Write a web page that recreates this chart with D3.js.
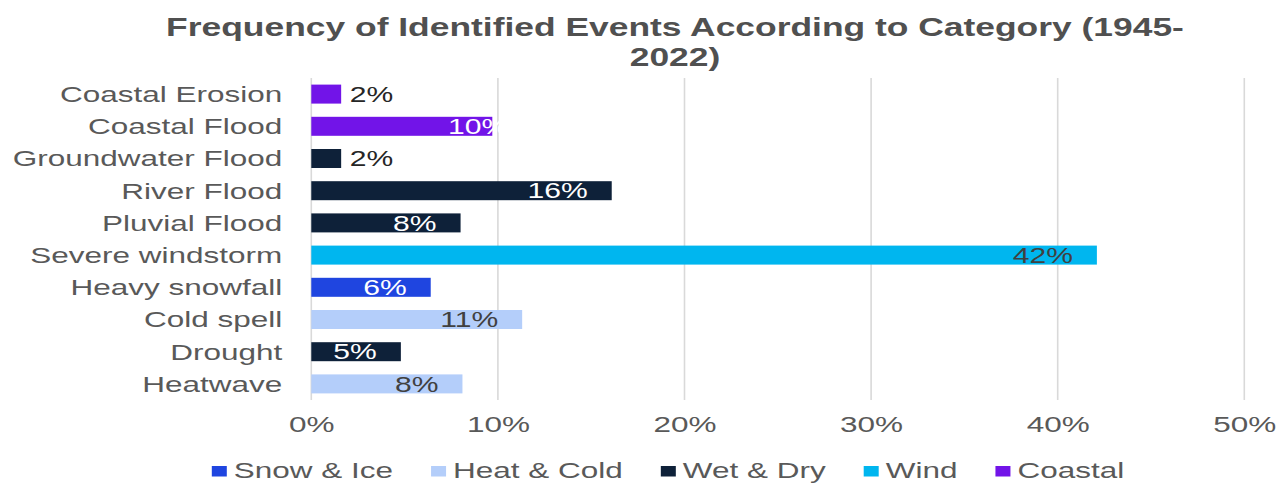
<!DOCTYPE html>
<html>
<head>
<meta charset="utf-8">
<script src="https://cdn.jsdelivr.net/npm/d3@7"></script>
<style>
  html, body { margin: 0; padding: 0; background: #ffffff; }
  svg { display: block; font-family: "Liberation Sans", Arial, sans-serif; }
</style>
</head>
<body>
<svg id="chart" width="1278" height="483"></svg>
<script>
// Event categories, top to bottom
const categories = [
  "Coastal Erosion", "Coastal Flood", "Groundwater Flood", "River Flood",
  "Pluvial Flood", "Severe windstorm", "Heavy snowfall", "Cold spell",
  "Drought", "Heatwave"
];
// Share of identified events per category
const shares = [0.016, 0.097, 0.016, 0.161, 0.080, 0.421, 0.064, 0.113, 0.048, 0.081];
// Hazard group of each category
const groups = [
  "Coastal", "Coastal", "Wet & Dry", "Wet & Dry", "Wet & Dry",
  "Wind", "Snow & Ice", "Heat & Cold", "Wet & Dry", "Heat & Cold"
];
// Legend entries and their colours
const legendGroups = ["Snow & Ice", "Heat & Cold", "Wet & Dry", "Wind", "Coastal"];
const groupColors = ["#1f45e0", "#b4cefa", "#0e2139", "#00b6ef", "#7214e8"];
// Axis ticks
const xTicks = [0, 0.1, 0.2, 0.3, 0.4, 0.5];

const titleLines = ["Frequency of Identified Events According to Category (1945-", "2022)"];

// Text in this chart is drawn horizontally widened
const SX = 1.4;
const FONT = 22.5;
const LABEL_FONT = 21.5;

const svg = d3.select("#chart");

const x = d3.scaleLinear().domain([0, 0.5]).range([311.3, 1244.3]);
const y = d3.scaleBand().domain(categories).range([78, 400])
  .paddingInner(0.41).paddingOuter(0.205);
const color = d3.scaleOrdinal().domain(legendGroups).range(groupColors);
const pct = d3.format(".0%");

const rows = categories.map((c, i) => ({ cat: c, value: shares[i], group: groups[i] }));

// Title
svg.append("g").selectAll("text").data(titleLines).join("text")
  .attr("transform", (d, i) => `translate(675,${36 + i * 30}) scale(${SX},1)`)
  .attr("text-anchor", "middle")
  .attr("font-weight", "bold")
  .attr("font-size", 25.3)
  .attr("fill", "#505050")
  .text(d => d);

// Vertical gridlines
svg.append("g").selectAll("line").data(xTicks).join("line")
  .attr("x1", d => x(d)).attr("x2", d => x(d))
  .attr("y1", 78).attr("y2", 400)
  .attr("stroke", "#d9d9d9").attr("stroke-width", 1.6);

// X axis labels
const xAxis = svg.append("g").attr("transform", "translate(0,400)")
  .call(d3.axisBottom(x).tickValues(xTicks).tickFormat(pct).tickSize(0).tickPadding(0));
xAxis.select(".domain").remove();
xAxis.selectAll("text")
  .attr("y", 0).attr("dy", null)
  .attr("transform", `translate(0,31.5) scale(${SX},1)`)
  .attr("font-size", FONT).attr("font-family", null)
  .attr("fill", "#595959");

// Category labels
const yAxis = svg.append("g").attr("transform", "translate(311.3,0)")
  .call(d3.axisLeft(y).tickSize(0).tickPadding(0));
yAxis.select(".domain").remove();
yAxis.selectAll("text")
  .attr("x", 0).attr("dy", "0.35em")
  .attr("transform", `translate(-29,0) scale(${SX},1)`)
  .attr("font-size", FONT).attr("font-family", null)
  .attr("fill", "#595959");

// Bars
svg.append("g").selectAll("rect").data(rows).join("rect")
  .attr("x", x(0))
  .attr("y", d => y(d.cat))
  .attr("width", d => x(d.value) - x(0))
  .attr("height", y.bandwidth())
  .attr("fill", d => color(d.group));

// Value labels: inside the bar end, or just past it for short bars
const darkGroups = new Set(["Snow & Ice", "Wet & Dry", "Coastal"]);
const labelShift = { "Coastal Flood": 40 };
svg.append("g").selectAll("text").data(rows).join("text")
  .attr("transform", d => {
    const inside = d.value > 0.03;
    const px = inside ? x(d.value) - 24 + (labelShift[d.cat] || 0) : x(d.value) + 8.6;
    return `translate(${px},${y(d.cat) + y.bandwidth() / 2}) scale(${SX},1)`;
  })
  .attr("dy", "0.36em")
  .attr("text-anchor", d => d.value > 0.03 ? "end" : "start")
  .attr("font-size", LABEL_FONT)
  .attr("fill", d => d.value <= 0.03 ? "#262626" : (darkGroups.has(d.group) ? "#ffffff" : "#404040"))
  .text(d => pct(d.value));

// Legend, centred under the plot
const legend = svg.append("g");
const items = legend.selectAll("g").data(legendGroups).join("g");
items.append("rect")
  .attr("x", 0).attr("y", 466).attr("width", 15).attr("height", 10.5)
  .attr("fill", d => color(d));
items.append("text")
  .attr("transform", `translate(22,477.5) scale(${SX},1)`)
  .attr("font-size", FONT).attr("fill", "#595959")
  .text(d => d);
let cursor = 0;
const itemGap = 38;
items.each(function () {
  const g = d3.select(this);
  const w = 22 + g.select("text").node().getComputedTextLength() * SX;
  g.attr("transform", `translate(${cursor},0)`);
  cursor += w + itemGap;
});
const total = cursor - itemGap;
legend.attr("transform", `translate(${668 - total / 2},0)`);
</script>
</body>
</html>
